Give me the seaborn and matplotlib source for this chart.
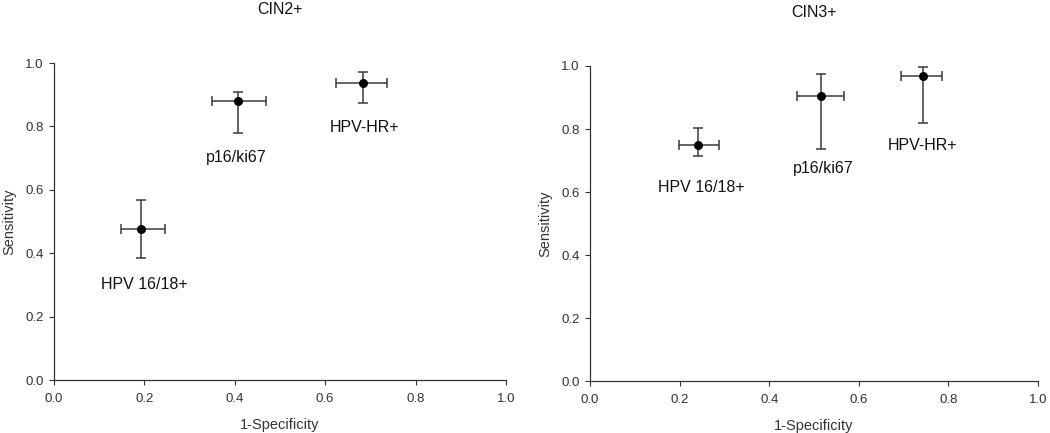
import pandas as pd
import matplotlib
matplotlib.use('Agg')
import matplotlib.pyplot as plt
import seaborn as sns

# values
tests = ['HPV 16/18+', 'p16/ki67', 'HPV-HR+']

cin2_fpr = [0.192, 0.407, 0.683]
cin2_fpr_lo = [0.148, 0.350, 0.623]
cin2_fpr_hi = [0.246, 0.468, 0.737]
cin2_sens = [0.475, 0.880, 0.936]
cin2_sens_lo = [0.386, 0.778, 0.873]
cin2_sens_hi = [0.567, 0.909, 0.972]

cin3_fpr = [0.240, 0.515, 0.744]
cin3_fpr_lo = [0.198, 0.463, 0.695]
cin3_fpr_hi = [0.288, 0.568, 0.786]
cin3_sens = [0.750, 0.905, 0.968]
cin3_sens_lo = [0.714, 0.737, 0.820]
cin3_sens_hi = [0.804, 0.975, 0.998]

# label positions (data coords)
cin2_lab_x = [0.199, 0.403, 0.688]
cin2_lab_y = [0.300, 0.701, 0.796]
cin3_lab_x = [0.249, 0.521, 0.743]
cin3_lab_y = [0.615, 0.675, 0.747]

sns.set_style('ticks')
plt.rcParams['font.family'] = ['Liberation Sans', 'DejaVu Sans']

fig = plt.figure(figsize=(10.5, 4.33), dpi=100)
ax1 = fig.add_axes([0.0514, 0.1224, 0.4305, 0.7321])
ax2 = fig.add_axes([0.5619, 0.1194, 0.4267, 0.7282])

panels = [
    (ax1, 'CIN2+', 35, cin2_fpr, cin2_fpr_lo, cin2_fpr_hi, cin2_sens, cin2_sens_lo, cin2_sens_hi, cin2_lab_x, cin2_lab_y),
    (ax2, 'CIN3+', 35, cin3_fpr, cin3_fpr_lo, cin3_fpr_hi, cin3_sens, cin3_sens_lo, cin3_sens_hi, cin3_lab_x, cin3_lab_y),
]

for ax, title, tpad, fx, fxlo, fxhi, sy, sylo, syhi, lx, ly in panels:
    df = pd.DataFrame({'test': tests, 'fpr': fx, 'fpr_lo': fxlo, 'fpr_hi': fxhi,
                       'sens': sy, 'sens_lo': sylo, 'sens_hi': syhi})
    xerr = [df.fpr - df.fpr_lo, df.fpr_hi - df.fpr]
    yerr = [df.sens - df.sens_lo, df.sens_hi - df.sens]
    ax.errorbar(df.fpr, df.sens, xerr=xerr, yerr=yerr, fmt='none',
                ecolor='#3a3a3a', elinewidth=1.1, capsize=3.5, capthick=1.1, zorder=2)
    sns.scatterplot(data=df, x='fpr', y='sens', ax=ax, color='black', s=42,
                    edgecolor='black', linewidth=0, zorder=3, legend=False)
    for t, x, y in zip(tests, lx, ly):
        ax.text(x, y, t, ha='center', va='center', fontsize=11.5, color='#111111')
    ax.set_xlim(0, 1)
    ax.set_ylim(0, 1)
    ax.set_xticks([0, 0.2, 0.4, 0.6, 0.8, 1.0])
    ax.set_yticks([0, 0.2, 0.4, 0.6, 0.8, 1.0])
    ax.set_xticklabels(['0.0', '0.2', '0.4', '0.6', '0.8', '1.0'])
    ax.set_yticklabels(['0.0', '0.2', '0.4', '0.6', '0.8', '1.0'])
    ax.tick_params(labelsize=9.5, colors='#333333', length=3.5, width=0.8)
    ax.tick_params(axis='x', pad=5.5)
    ax.tick_params(axis='y', pad=4)
    ax.set_xlabel('1-Specificity', fontsize=10.5, color='#333333', labelpad=9.5)
    ax.set_ylabel('Sensitivity', fontsize=10.5, color='#333333', labelpad=6)
    ax.set_title(title, fontsize=11.5, color='#111111', pad=tpad)
    sns.despine(ax=ax)
    for sp in ['left', 'bottom']:
        ax.spines[sp].set_color('#333333')
        ax.spines[sp].set_linewidth(0.9)

fig.savefig('out.png', dpi=100)
